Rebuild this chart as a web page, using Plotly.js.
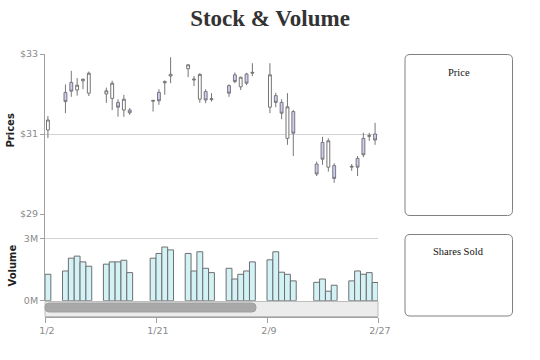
<!DOCTYPE html>
<html>
<head>
<meta charset="utf-8">
<script src="https://cdn.plot.ly/plotly-3.0.1.min.js"></script>
<style>html,body{margin:0;padding:0;background:#fff}#chart{width:540px;height:360px}</style>
</head>
<body>
<div id="chart"></div>
<script>
// ---- data ----
var dates = ['2009-01-02','2009-01-05','2009-01-06','2009-01-07','2009-01-08','2009-01-09',
  '2009-01-12','2009-01-13','2009-01-14','2009-01-15','2009-01-16',
  '2009-01-20','2009-01-21','2009-01-22','2009-01-23',
  '2009-01-26','2009-01-27','2009-01-28','2009-01-29','2009-01-30',
  '2009-02-02','2009-02-03','2009-02-04','2009-02-05','2009-02-06',
  '2009-02-09','2009-02-10','2009-02-11','2009-02-12','2009-02-13',
  '2009-02-17','2009-02-18','2009-02-19','2009-02-20',
  '2009-02-23','2009-02-24','2009-02-25','2009-02-26','2009-02-27'];
var openP  = [31.10,32.04,32.29,32.10,32.33,32.02, 32.00,31.89,31.79,31.60,31.60, 31.82,32.04,32.28,32.45,
  32.63,32.35,31.87,32.06,31.86, 32.21,32.48,32.18,32.50,32.52, 31.67,31.96,31.79,30.89,31.56,
  30.25,30.79,30.17,30.21, 30.17,30.39,30.89,30.94,31.00];
var highP  = [31.45,32.24,32.58,32.40,32.38,32.56, 32.16,32.33,31.87,31.98,31.65, 31.85,32.12,32.34,32.92,
  32.74,32.45,32.52,32.12,32.02, 32.24,32.54,32.43,32.53,32.77, 32.77,32.03,31.87,32.02,31.60,
  30.31,30.93,30.89,30.27, 30.25,30.45,31.03,31.03,31.28];
var lowP   = [30.90,31.52,31.93,31.96,32.12,31.95, 31.78,31.60,31.43,31.43,31.48, 31.56,31.73,31.98,32.27,
  32.42,32.20,31.78,31.77,31.81, 31.93,32.27,32.10,32.22,32.45, 31.52,31.67,31.37,30.73,30.45,
  29.95,30.23,30.06,29.78, 30.08,29.95,30.42,30.83,30.73];
var closeP = [31.35,31.81,32.07,32.22,32.37,32.52, 32.08,32.27,31.67,31.87,31.53, 31.84,31.83,32.31,32.49,
  32.73,32.37,32.49,31.85,31.88, 32.02,32.31,32.42,32.27,32.54, 32.48,31.79,31.52,31.68,31.02,
  30.00,30.37,30.83,29.89, 30.19,30.17,30.48,30.96,30.85];
var volumeM = [1.28,1.44,2.06,2.16,1.88,1.67, 1.77,1.88,1.88,1.96,1.36, 2.06,2.29,2.60,2.46,
  2.29,1.44,2.37,1.57,1.36, 1.57,1.05,1.28,1.44,1.88, 1.98,2.37,1.38,1.28,0.96,
  0.89,1.05,0.46,0.75, 0.96,1.44,1.28,1.36,0.88];
var priceTicks = [29, 31, 33];
var priceTickText = ['$29', '$31', '$33'];
var volumeTicks = [0, 3];
var volumeTickText = ['0M', '3M'];
var xTickVals = ['2009-01-02','2009-01-21','2009-02-09','2009-02-28'];
var xTickText = ['1/2','1/21','2/9','2/27'];

// ---- layout geometry (pixels) ----
var W = 540, H = 360, ML = 45, MR = 162, MT = 54, MB = 43;
var PW = W - ML - MR, PH = H - MT - MB;
function px(x){ return (x - ML) / PW; }
function py(y){ return (MT + PH - y) / PH; }
function rrect(x0, y0, x1, y1, r){
  return 'M' + px(x0 + r) + ',' + py(y0) +
    ' L' + px(x1 - r) + ',' + py(y0) +
    ' Q' + px(x1) + ',' + py(y0) + ' ' + px(x1) + ',' + py(y0 + r) +
    ' L' + px(x1) + ',' + py(y1 - r) +
    ' Q' + px(x1) + ',' + py(y1) + ' ' + px(x1 - r) + ',' + py(y1) +
    ' L' + px(x0 + r) + ',' + py(y1) +
    ' Q' + px(x0) + ',' + py(y1) + ' ' + px(x0) + ',' + py(y1 - r) +
    ' L' + px(x0) + ',' + py(y0 + r) +
    ' Q' + px(x0) + ',' + py(y0) + ' ' + px(x0 + r) + ',' + py(y0) + ' Z';
}

var DAY = 86400000;
var tickFont = {family: 'DejaVu Sans, Verdana, sans-serif', size: 9.5, color: '#8a8a8a'};

var traces = [
  {
    type: 'candlestick', x: dates, open: openP, high: highP, low: lowP, close: closeP,
    xperiod: DAY, xperiodalignment: 'middle',
    xaxis: 'x', yaxis: 'y', whiskerwidth: 0,
    increasing: {line: {color: '#757575', width: 1}, fillcolor: '#ffffff'},
    decreasing: {line: {color: '#77777f', width: 1}, fillcolor: '#cdcdf0'},
    hoverinfo: 'skip', showlegend: false
  },
  {
    type: 'bar', x: dates, y: volumeM,
    xperiod: DAY, xperiodalignment: 'middle',
    xaxis: 'x', yaxis: 'y2',
    marker: {color: '#d3f2f6', line: {color: '#6e6e6e', width: 1}},
    hoverinfo: 'skip', showlegend: false
  }
];

var layout = {
  width: W, height: H,
  margin: {l: ML, r: MR, t: MT, b: MB, pad: 0},
  paper_bgcolor: '#fff', plot_bgcolor: '#fff',
  showlegend: false,
  bargap: 0,
  title: {text: 'Stock &amp; Volume', x: 0.5, xref: 'container', xanchor: 'center',
          y: 1 - 17.5 / H, yref: 'container', yanchor: 'middle',
          font: {family: 'Liberation Serif, Georgia, serif', size: 23, color: '#333', weight: 'bold'}},
  xaxis: {
    type: 'date', range: ['2009-01-02', '2009-02-28'], anchor: 'free', position: 0,
    showgrid: false, zeroline: false, showline: true, linecolor: '#a0a0a0', linewidth: 1,
    ticks: 'outside', ticklen: 5, tickcolor: '#a0a0a0',
    tickmode: 'array', tickvals: xTickVals, ticktext: xTickText,
    tickfont: tickFont, ticklabelshift: 2,
    rangeslider: {visible: false}, fixedrange: true
  },
  yaxis: {
    domain: [py(214), 1], range: [29, 33], anchor: 'x',
    tickmode: 'array', tickvals: priceTicks, ticktext: priceTickText,
    showgrid: true, gridcolor: '#d2d2d2', zeroline: false,
    showline: true, linecolor: '#a0a0a0', ticks: 'outside', ticklen: 4, tickcolor: '#a0a0a0',
    tickfont: tickFont, fixedrange: true
  },
  yaxis2: {
    domain: [py(300.7), py(214)], range: [0, 4.2], anchor: 'x',
    tickmode: 'array', tickvals: volumeTicks, ticktext: volumeTickText,
    showgrid: true, gridcolor: '#d2d2d2', zeroline: false,
    showline: true, linecolor: '#a0a0a0', ticks: 'outside', ticklen: 4, tickcolor: '#a0a0a0',
    tickfont: tickFont, fixedrange: true
  },
  shapes: [
    // scrollbar track and thumb
    {type: 'rect', xref: 'paper', yref: 'paper', x0: px(45), x1: px(378), y0: py(316.5), y1: py(301.5),
     fillcolor: '#ececec', line: {color: '#bdbdbd', width: 1}, layer: 'above'},
    {type: 'path', xref: 'paper', yref: 'paper', path: rrect(45, 303, 256, 312, 4),
     fillcolor: '#a8a8a8', line: {color: '#a0a0a0', width: 1}, layer: 'above'},
    // legend boxes
    {type: 'path', xref: 'paper', yref: 'paper', path: rrect(405, 54.5, 512.5, 215.5, 5),
     fillcolor: 'rgba(0,0,0,0)', line: {color: '#808080', width: 1}},
    {type: 'path', xref: 'paper', yref: 'paper', path: rrect(405, 234.5, 512.5, 316, 5),
     fillcolor: 'rgba(0,0,0,0)', line: {color: '#808080', width: 1}}
  ],
  annotations: [
    {text: 'Prices', xref: 'paper', yref: 'paper', x: px(9.5), y: py(131), textangle: -90,
     showarrow: false, xanchor: 'center', yanchor: 'middle',
     font: {family: 'DejaVu Sans, Verdana, sans-serif', size: 10, color: '#222', weight: 'bold'}},
    {text: 'Volume', xref: 'paper', yref: 'paper', x: px(11.5), y: py(266), textangle: -90,
     showarrow: false, xanchor: 'center', yanchor: 'middle',
     font: {family: 'DejaVu Sans, Verdana, sans-serif', size: 10, color: '#222', weight: 'bold'}},
    {text: 'Price', xref: 'paper', yref: 'paper', x: px(458.5), y: py(73), showarrow: false,
     xanchor: 'center', yanchor: 'middle',
     font: {family: 'Liberation Serif, Georgia, serif', size: 10.5, color: '#111'}},
    {text: 'Shares Sold', xref: 'paper', yref: 'paper', x: px(458.5), y: py(251), showarrow: false,
     xanchor: 'center', yanchor: 'middle',
     font: {family: 'Liberation Serif, Georgia, serif', size: 10.5, color: '#111'}}
  ]
};

Plotly.newPlot('chart', traces, layout, {displayModeBar: false, staticPlot: true});
</script>
</body>
</html>
